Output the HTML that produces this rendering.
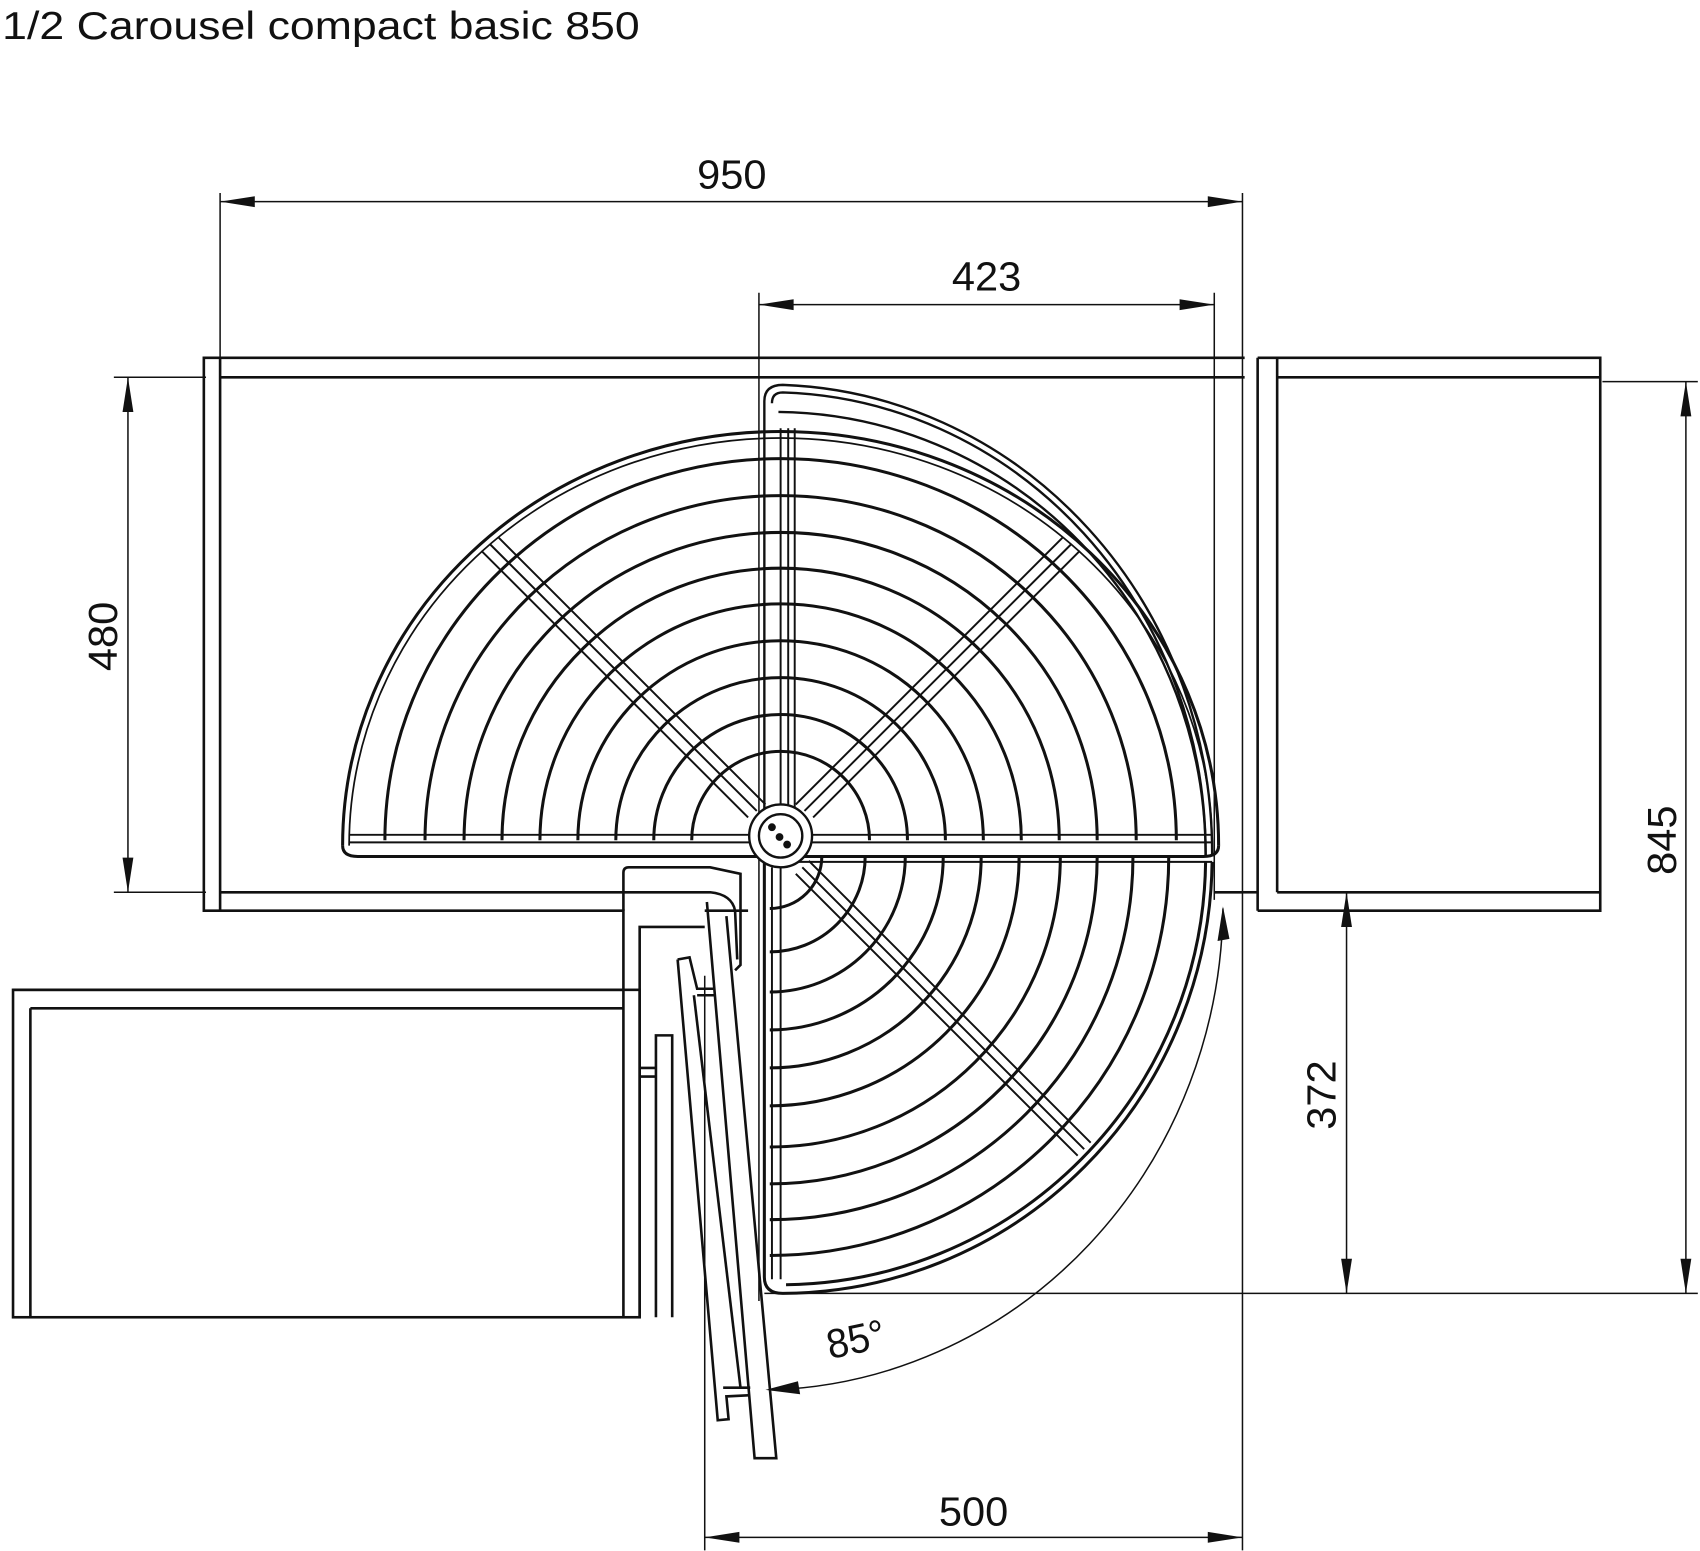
<!DOCTYPE html>
<html><head><meta charset="utf-8"><style>
html,body{margin:0;padding:0;background:#fff}
svg{display:block}
text{font-family:"Liberation Sans",sans-serif;fill:#111}
</style></head><body>
<svg width="1700" height="1551" viewBox="0 0 1568 1430.6" xmlns="http://www.w3.org/2000/svg">
<text x="2" y="36" font-size="36" textLength="588" lengthAdjust="spacingAndGlyphs">1/2 Carousel compact basic 850</text>

<g fill="none" stroke="#111" stroke-width="1.4">
<line x1="203" y1="178" x2="203" y2="330"/>
<line x1="1146" y1="178" x2="1146" y2="1430"/>
<line x1="203" y1="186" x2="1146" y2="186"/>
<line x1="700" y1="270" x2="700" y2="1200"/>
<line x1="1120" y1="270" x2="1120" y2="830"/>
<line x1="700" y1="281" x2="1120" y2="281"/>
<line x1="105" y1="348" x2="190" y2="348"/>
<line x1="105" y1="823" x2="190" y2="823"/>
<line x1="118" y1="348" x2="118" y2="823"/>
<line x1="1478" y1="352" x2="1566" y2="352"/>
<line x1="705" y1="1193" x2="1566" y2="1193"/>
<line x1="1555" y1="352" x2="1555" y2="1193"/>
<line x1="1242" y1="823" x2="1242" y2="1193"/>
<line x1="650" y1="900" x2="650" y2="1430"/>
<line x1="650" y1="1418" x2="1146" y2="1418"/>
</g>
<g fill="#111">
<polygon points="203,186 235,181 235,191"/><polygon points="1146,186 1114,181 1114,191"/>
<polygon points="700,281 732,276 732,286"/><polygon points="1120,281 1088,276 1088,286"/>
<polygon points="118,348 113,380 123,380"/><polygon points="118,823 113,791 123,791"/>
<polygon points="1555,352 1550,384 1560,384"/><polygon points="1555,1193 1550,1161 1560,1161"/>
<polygon points="1242,823 1237,855 1247,855"/><polygon points="1242,1193 1237,1161 1247,1161"/>
<polygon points="650,1418 682,1413 682,1423"/><polygon points="1146,1418 1114,1413 1114,1423"/>
<polygon points="1128,836 1123,868 1134,866"/>
<polygon points="706,1282 736,1274 738,1286"/>
</g>
<g font-size="38">
<text x="675" y="174" text-anchor="middle" textLength="64" lengthAdjust="spacingAndGlyphs">950</text>
<text x="910" y="268" text-anchor="middle" textLength="64" lengthAdjust="spacingAndGlyphs">423</text>
<text x="898" y="1407" text-anchor="middle" textLength="64" lengthAdjust="spacingAndGlyphs">500</text>
<text transform="translate(108,587) rotate(-90)" text-anchor="middle" textLength="64" lengthAdjust="spacingAndGlyphs">480</text>
<text transform="translate(1546,775) rotate(-90)" text-anchor="middle" textLength="64" lengthAdjust="spacingAndGlyphs">845</text>
<text transform="translate(1232,1010) rotate(-90)" text-anchor="middle" textLength="64" lengthAdjust="spacingAndGlyphs">372</text>
<text transform="translate(792,1248) rotate(-12)" text-anchor="middle" textLength="54" lengthAdjust="spacingAndGlyphs">85°</text>
</g>

<g fill="none" stroke="#111" stroke-width="2.4">
<polyline points="1148,330 188,330 188,840 575,840 575,1215"/>
<line x1="203" y1="330" x2="203" y2="840"/>
<line x1="203" y1="348" x2="1148" y2="348"/>
<polyline points="203,823 575,823"/>
<line x1="1160" y1="330" x2="1160" y2="840"/>
<polyline points="1160,330 1476,330 1476,840 1160,840"/>
<line x1="1178" y1="330" x2="1178" y2="823"/>
<line x1="1178" y1="348" x2="1476" y2="348"/>
<line x1="1178" y1="823" x2="1476" y2="823"/>
<line x1="1146" y1="823" x2="1160" y2="823"/>
<line x1="1120" y1="823" x2="1146" y2="823"/>
<rect x="12" y="913" width="578" height="302"/>
<line x1="28" y1="930" x2="28" y2="1215"/>
<line x1="28" y1="930" x2="575" y2="930"/>
<line x1="12" y1="913" x2="575" y2="913"/>
<polyline points="590,1215 590,855 650,855"/>
<polyline points="605,1215 605,955 620,955 620,1215"/>
<polyline points="590,985 605,985"/><polyline points="590,993 605,993"/>
<path d="M575,840 L575,805 Q575,800 580,800 L655,800 L683,806 L683,890 L678,895"/>
<path d="M575,823 L655,823 Q675,825 678,840 L680,885"/>
<line x1="650" y1="840" x2="690" y2="840"/>
<path d="M652,832 L696,1345 L716,1345 L670,845"/>
<path d="M625,885 L636,883 L643,912 L658,912"/>
<path d="M625,885 L662,1310 L672,1309 L670,1288 L690,1287"/>
<line x1="640" y1="918" x2="683" y2="1280"/>
<line x1="643" y1="918" x2="660" y2="918"/>
<line x1="667" y1="1280" x2="692" y2="1280"/>
</g>

<g fill="none" stroke="#111" stroke-width="2.2">
<path d="M705,800 L705,370 Q705,355 722,355 A410 432 0 0 1 1118,790"/>
<path d="M712,372 Q712,362 722,362 A402 425 0 0 1 1112,790"/>
<path d="M718,380 A398 408 0 0 1 1112,790"/>
<path d="M1128,838 A430 450 0 0 1 712,1282" stroke-width="1.4"/>
</g>

<g fill="none" stroke="#111" stroke-width="2.8">
<path d="M316,780 A404 382 0 0 1 1124,780"/>
<path d="M322,780 A398 376 0 0 1 1118,780" stroke-width="1.6"/>
<path d="M355,775 A365 352 0 0 1 1085,775"/>
<path d="M392,775 A328 318 0 0 1 1048,775"/>
<path d="M428,775 A292 284 0 0 1 1012,775"/>
<path d="M463,775 A257 251 0 0 1 977,775"/>
<path d="M498,775 A222 218 0 0 1 942,775"/>
<path d="M533,775 A187 184 0 0 1 907,775"/>
<path d="M568,775 A152 150 0 0 1 872,775"/>
<path d="M603,775 A117 116 0 0 1 837,775"/>
<path d="M638,775 A82 82 0 0 1 802,775"/>
<path d="M316,780 Q316,790 330,790 L1110,790 Q1124,790 1124,780"/>
<line x1="322" y1="770" x2="1118" y2="770" stroke-width="1.8"/>
<line x1="322" y1="777" x2="1118" y2="777" stroke-width="1.8"/>
<line x1="720" y1="395" x2="720" y2="745" stroke-width="1.8"/>
<line x1="727" y1="395" x2="727" y2="745" stroke-width="1.8"/>
<line x1="733" y1="395" x2="733" y2="745" stroke-width="1.8"/>
</g>
<g fill="none" stroke="#111" stroke-width="1.8">
<path d="M698,748 L452,502 M706,742 L460,496 M690,754 L444,508"/>
<path d="M742,748 L988,502 M734,742 L980,496 M750,754 L996,508"/>
<path d="M740,800 L1000,1060 M746,794 L1006,1054 M734,806 L994,1066"/>
</g>

<g fill="none" stroke="#111" stroke-width="2.8">
<path d="M710,838 A48 48 0 0 0 758,790"/>
<path d="M710,878 A88 88 0 0 0 798,790"/>
<path d="M710,915 A125 125 0 0 0 835,790"/>
<path d="M710,950 A160 160 0 0 0 870,790"/>
<path d="M710,985 A195 195 0 0 0 905,790"/>
<path d="M710,1020 A230 230 0 0 0 940,790"/>
<path d="M710,1058 A268 268 0 0 0 978,790"/>
<path d="M710,1092 A302 302 0 0 0 1012,790"/>
<path d="M710,1125 A335 335 0 0 0 1045,790"/>
<path d="M710,1158 A368 368 0 0 0 1078,790"/>
<path d="M725,1185 A392 395 0 0 0 1112,795"/>
<path d="M705,795 L705,1178 Q705,1193 722,1193 A398 403 0 0 0 1118,795"/>
<line x1="712" y1="800" x2="712" y2="1180" stroke-width="1.8"/>
<line x1="720" y1="800" x2="720" y2="1180" stroke-width="1.8"/>
<line x1="705" y1="795" x2="1118" y2="795" stroke-width="1.8"/>
</g>

<g stroke="#111" stroke-width="2.2">
<circle cx="720" cy="771" r="29" fill="#fff"/>
<circle cx="720" cy="771" r="20" fill="none"/>
<circle cx="712" cy="763" r="2.5" fill="#111"/>
<circle cx="719" cy="772" r="2.5" fill="#111"/>
<circle cx="726" cy="779" r="2.5" fill="#111"/>
</g>
</svg>
</body></html>
